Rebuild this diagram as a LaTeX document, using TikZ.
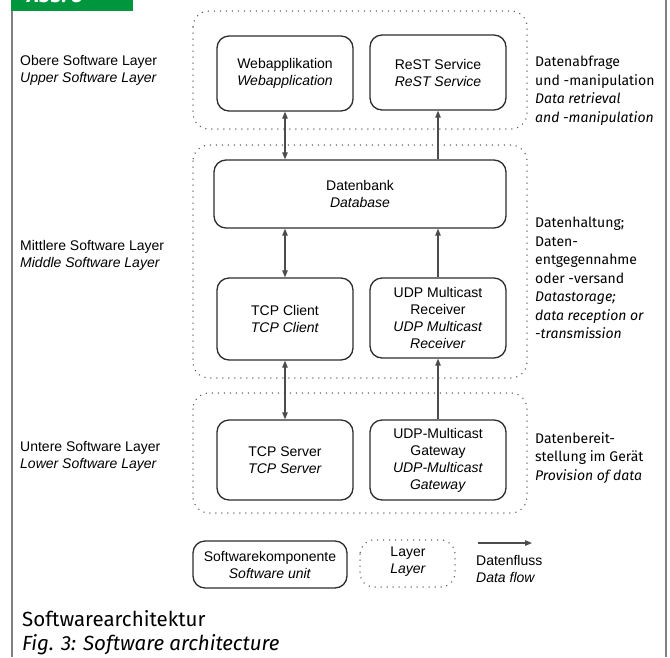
\documentclass[tikz,border=0pt]{standalone}
\usepackage{fontspec}
\setmainfont{Liberation Sans}
\newfontfamily\dinfont{Fira Sans}
\usetikzlibrary{arrows.meta}

\definecolor{abbgreen}{RGB}{0,150,62}
\definecolor{boxgray}{RGB}{45,45,45}
\definecolor{dotgray}{RGB}{85,85,85}

\tikzset{
  unit/.style={draw=boxgray, line width=1.3pt, rounded corners=12pt, align=center,
    inner sep=0pt, minimum width=136pt, minimum height=80pt,
    font=\fontsize{14}{17}\selectfont},
  layer/.style={draw=dotgray, line width=1.5pt, line cap=round,
    dash pattern=on 0pt off 6pt, rounded corners=16pt},
  flow/.style={draw=black!70, line width=1.1pt},
  sidelabel/.style={anchor=west, align=left, inner sep=0pt,
    font=\fontsize{14}{17}\selectfont},
  tasklabel/.style={anchor=west, align=left, inner sep=0pt,
    font=\dinfont\fontsize{14}{18.5}\selectfont},
}

\begin{document}
\begin{tikzpicture}[x=1pt, y=-1pt, >={Triangle[length=7pt,width=5.5pt]}]

  \useasboundingbox (0,0) rectangle (670,657);

  % Frame and green tab
  \draw[gray, line width=1.5pt] (12,11) -- (12,657);
  \draw[gray, line width=1.5pt] (666,0) -- (666,657);
  \fill[abbgreen] (11.25,0) rectangle (133,11);
  \node[anchor=base west, inner sep=0pt, text=white,
    font=\dinfont\bfseries\itshape\fontsize{20}{22}\selectfont] (tab) at (27,2.5) {Abb. 3};

  % Layers (dotted)
  \draw[layer] (193,11) rectangle (527,129);
  \draw[layer] (193,145) rectangle (527,378);
  \draw[layer] (193,393) rectangle (527,513);

  % Software units
  \node[unit, minimum height=75pt] (webapp) at (285,73.5) {Webapplikation\\\textit{Webapplication}};
  \node[unit, minimum height=75pt] (rest) at (438,72.5) {ReST Service\\\textit{ReST Service}};
  \node[unit, minimum width=292pt, minimum height=68pt] (db) at (360,194) {Datenbank\\\textit{Database}};
  \node[unit, minimum height=82pt] (tcpc) at (285,319) {TCP Client\\\textit{TCP Client}};
  \node[unit] (udpr) at (438,318) {UDP Multicast\\Receiver\\\textit{UDP Multicast}\\\textit{Receiver}};
  \node[unit] (tcps) at (285,460) {TCP Server\\\textit{TCP Server}};
  \node[unit] (udpg) at (438,460) {UDP-Multicast\\Gateway\\\textit{UDP-Multicast}\\\textit{Gateway}};

  % Data flow
  \draw[flow, <->] (webapp.south) -- (webapp.south |- db.north);
  \draw[flow, ->] (rest.south |- db.north) -- (rest.south);
  \draw[flow, <->] (tcpc.north |- db.south) -- (tcpc.north);
  \draw[flow, ->] (udpr.north) -- (udpr.north |- db.south);
  \draw[flow, <->] (tcpc.south) -- (tcps.north);
  \draw[flow, ->] (udpg.north) -- (udpr.south);

  % Layer names
  \node[sidelabel] (upper) at (20,70.5) {Obere Software Layer\\\textit{Upper Software Layer}};
  \node[sidelabel] (middle) at (20,255.5) {Mittlere Software Layer\\\textit{Middle Software Layer}};
  \node[sidelabel] (lower) at (20,456.5) {Untere Software Layer\\\textit{Lower Software Layer}};

  % Layer tasks
  \node[tasklabel] (taskup) at (535,91) {Datenabfrage\\und -manipulation\\\textit{Data retrieval}\\\textit{and -manipulation}};
  \node[tasklabel] (taskmid) at (535,278) {Datenhaltung;\\Daten-\\entgegennahme\\oder -versand\\\textit{Datastorage;}\\\textit{data reception or}\\\textit{-transmission}};
  \node[tasklabel] (tasklow) at (535,458) {Datenbereit-\\stellung im Gerät\\\textit{Provision of data}};

  % Legend
  \node[unit, minimum width=154pt, minimum height=47pt] (legunit) at (270,564.5) {Softwarekomponente\\\textit{Software unit}};
  \draw[layer, rounded corners=14pt] (360,540) rectangle (455,587);
  \node[align=center, inner sep=0pt, font=\fontsize{14}{17}\selectfont] (leglayer) at (408,561.5) {Layer\\\textit{Layer}};
  \coordinate (flowa) at (478,543);
  \coordinate (flowb) at (532,543);
  \draw[flow, ->] (flowa) -- (flowb);
  \node[sidelabel] (legflow) at (476,569) {Datenfluss\\\textit{Data flow}};

  % Caption
  \node[anchor=west, align=left, inner sep=0pt,
    font=\dinfont\fontsize{20.5}{23.5}\selectfont] (caption) at (22,632.5) {Softwarearchitektur\\\textit{Fig. 3: Software architecture}};

\end{tikzpicture}
\end{document}
